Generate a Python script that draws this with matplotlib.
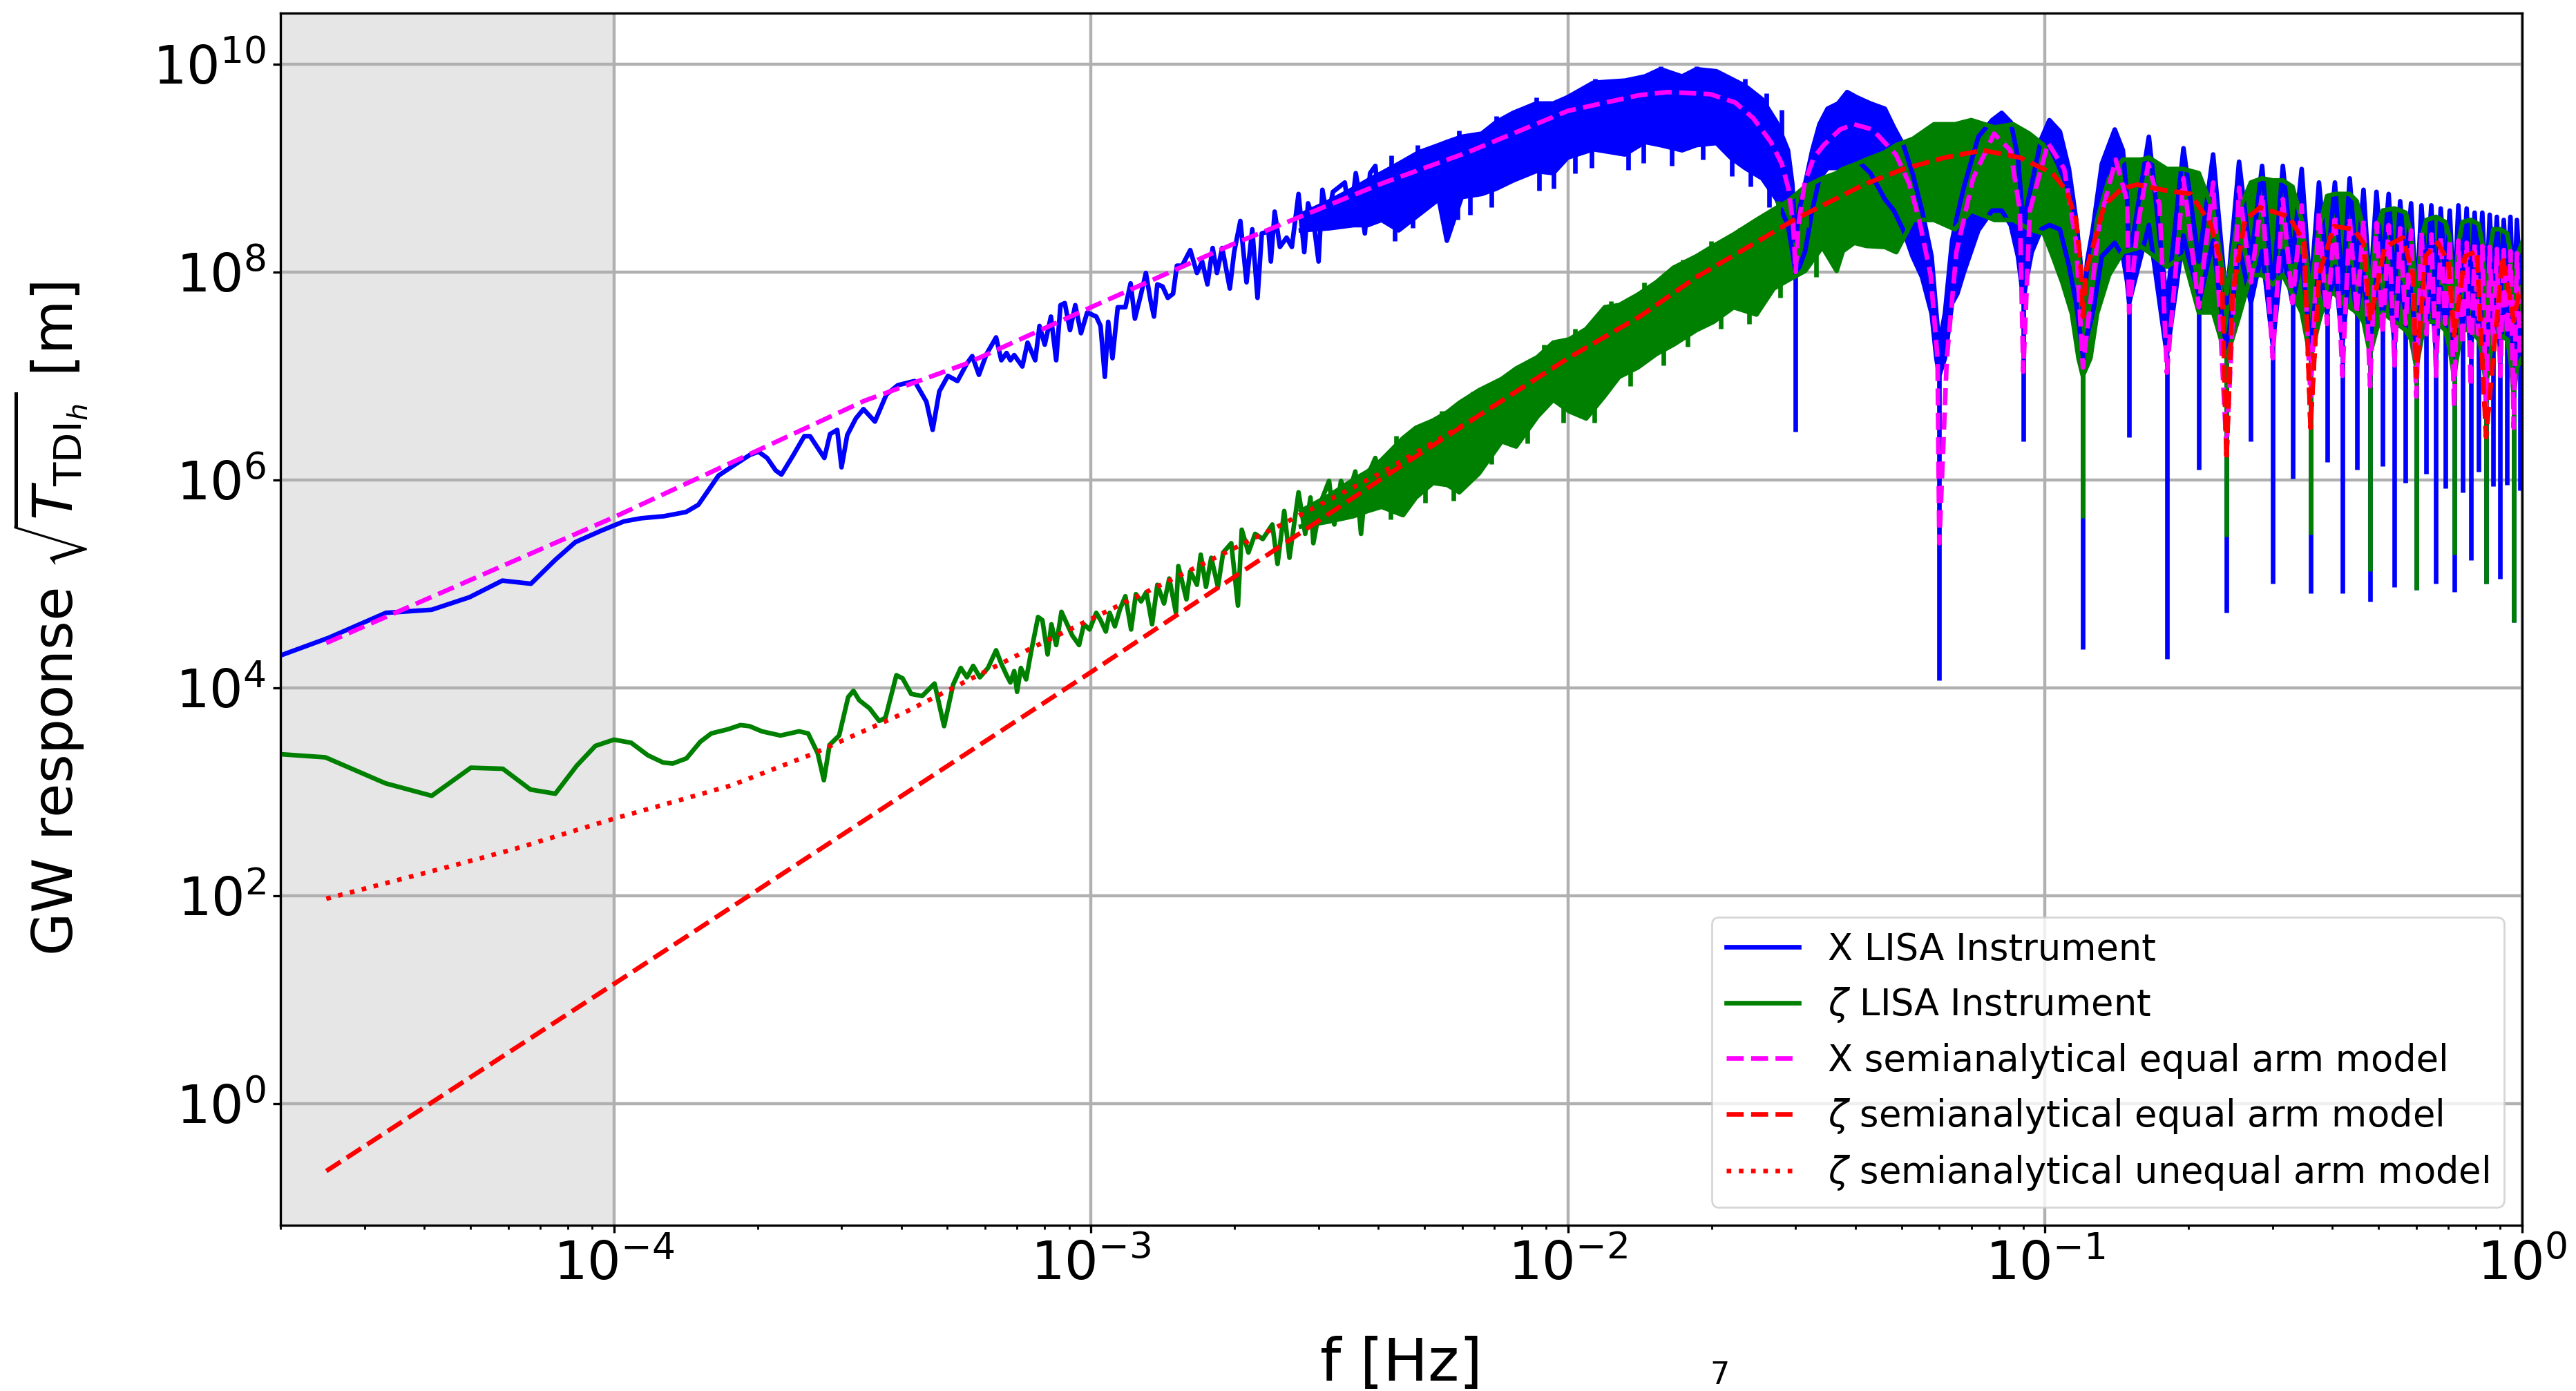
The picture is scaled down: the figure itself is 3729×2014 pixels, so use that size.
import numpy as np
import matplotlib.pyplot as plt
from matplotlib.ticker import NullLocator

# All values: [log10 f (Hz), log10 response (m)]

# X, LISA Instrument: low-frequency single trace
x_inst_low = np.array([
    [-4.699, 4.31], [-4.598, 4.48], [-4.478, 4.72], [-4.382, 4.75], [-4.303, 4.87],
    [-4.234, 5.03], [-4.174, 5.00], [-4.123, 5.23], [-4.081, 5.40], [-4.027, 5.51],
    [-3.979, 5.60], [-3.943, 5.63], [-3.895, 5.65], [-3.849, 5.69], [-3.823, 5.76],
    [-3.781, 6.04], [-3.745, 6.15], [-3.715, 6.24], [-3.697, 6.27], [-3.679, 6.21],
    [-3.661, 6.09], [-3.649, 6.05], [-3.625, 6.23], [-3.601, 6.42], [-3.589, 6.42],
    [-3.559, 6.21], [-3.547, 6.44], [-3.532, 6.48], [-3.523, 6.12], [-3.511, 6.43],
    [-3.493, 6.59], [-3.477, 6.68], [-3.453, 6.56], [-3.429, 6.82], [-3.405, 6.91],
    [-3.370, 6.95], [-3.345, 6.75], [-3.332, 6.48], [-3.318, 6.85], [-3.300, 7.00],
    [-3.280, 6.95], [-3.260, 7.12], [-3.249, 7.19], [-3.235, 7.01], [-3.219, 7.21],
    [-3.199, 7.37], [-3.188, 7.15], [-3.177, 7.22], [-3.169, 7.15], [-3.161, 7.20],
    [-3.144, 7.09], [-3.133, 7.32], [-3.117, 7.15], [-3.108, 7.48], [-3.097, 7.30],
    [-3.084, 7.57], [-3.073, 7.15], [-3.064, 7.68], [-3.055, 7.70], [-3.044, 7.44],
    [-3.033, 7.68], [-3.021, 7.41], [-3.008, 7.61], [-2.989, 7.57], [-2.980, 7.48],
    [-2.971, 6.99], [-2.964, 7.52], [-2.955, 7.17], [-2.944, 7.66], [-2.928, 7.66],
    [-2.917, 7.89], [-2.908, 7.55], [-2.895, 7.79], [-2.885, 7.99], [-2.875, 7.72],
    [-2.868, 7.57], [-2.861, 7.88], [-2.850, 7.86], [-2.839, 7.75], [-2.828, 7.79],
    [-2.820, 8.06], [-2.809, 8.06], [-2.792, 8.21], [-2.778, 7.99], [-2.767, 8.10],
    [-2.756, 7.88], [-2.745, 8.23], [-2.736, 7.99], [-2.725, 8.23], [-2.709, 7.84],
    [-2.700, 8.19], [-2.687, 8.49], [-2.674, 7.90], [-2.662, 8.41], [-2.651, 7.75],
    [-2.642, 8.37], [-2.628, 8.39], [-2.623, 8.10], [-2.615, 8.58], [-2.604, 8.24],
    [-2.590, 8.33], [-2.579, 8.24], [-2.565, 8.75], [-2.553, 8.19], [-2.545, 8.66],
    [-2.534, 8.50], [-2.523, 8.10], [-2.515, 8.79], [-2.504, 8.50], [-2.493, 8.77],
    [-2.479, 8.82], [-2.468, 8.86], [-2.457, 8.48], [-2.445, 8.95], [-2.434, 8.64],
    [-2.426, 8.37], [-2.415, 8.95], [-2.404, 9.02], [-2.393, 8.50],
])

# X, LISA Instrument: dense part, [log10 f, lower edge, upper edge]
x_inst_band = np.array([
    [-2.560, 8.40, 8.55], [-2.500, 8.42, 8.68], [-2.450, 8.45, 8.80], [-2.420, 8.45, 8.88],
    [-2.391, 8.50, 8.95], [-2.355, 8.40, 9.04], [-2.313, 8.55, 9.15], [-2.271, 8.70, 9.22],
    [-2.254, 8.30, 9.25], [-2.223, 8.72, 9.30], [-2.181, 8.75, 9.33], [-2.151, 8.80, 9.44],
    [-2.115, 8.88, 9.53], [-2.067, 8.97, 9.62], [-2.031, 8.95, 9.62], [-2.001, 9.10, 9.68],
    [-1.947, 9.18, 9.82], [-1.881, 9.13, 9.84], [-1.839, 9.25, 9.88], [-1.806, 9.22, 9.95],
    [-1.761, 9.17, 9.88], [-1.731, 9.22, 9.95], [-1.689, 9.24, 9.93], [-1.659, 9.10, 9.86],
    [-1.629, 9.00, 9.79], [-1.593, 8.90, 9.66], [-1.563, 8.70, 9.44], [-1.539, 8.45, 9.17],
    [-1.530, 8.20, 8.85], [-1.523, 8.00, 8.30], [-1.515, 8.05, 8.60], [-1.503, 8.20, 8.85],
    [-1.488, 8.60, 9.17], [-1.473, 8.90, 9.42], [-1.456, 9.00, 9.57], [-1.434, 9.00, 9.62],
    [-1.415, 9.05, 9.73], [-1.395, 9.08, 9.68], [-1.366, 8.95, 9.62], [-1.336, 8.70, 9.57],
    [-1.317, 8.59, 9.39], [-1.297, 8.40, 9.22], [-1.278, 8.15, 8.95], [-1.258, 7.95, 8.59],
    [-1.238, 7.60, 8.15], [-1.228, 7.17, 7.60], [-1.222, 7.00, 7.30], [-1.210, 7.17, 7.60],
    [-1.195, 7.70, 8.30], [-1.184, 7.79, 8.55], [-1.170, 8.00, 8.82], [-1.140, 8.40, 9.30],
    [-1.111, 8.59, 9.46], [-1.091, 8.59, 9.53], [-1.072, 8.45, 9.44], [-1.057, 8.15, 9.10],
    [-1.050, 7.90, 8.70], [-1.046, 7.70, 8.20], [-1.040, 7.90, 8.60], [-1.028, 8.19, 8.85],
    [-1.008, 8.41, 9.28], [-0.991, 8.45, 9.46], [-0.969, 8.41, 9.35], [-0.950, 8.06, 8.99],
    [-0.935, 7.70, 8.50], [-0.926, 7.39, 8.10], [-0.921, 7.20, 7.60], [-0.912, 7.39, 8.10],
    [-0.900, 7.60, 8.41], [-0.881, 8.15, 9.04], [-0.854, 8.28, 9.37], [-0.837, 8.15, 9.17],
    [-0.828, 7.90, 8.70],
])
# single noise spikes sticking out of the X band: [log10 f, tip]
x_spikes = np.array([
    [-2.364, 8.30], [-2.325, 8.42], [-2.232, 8.50], [-2.205, 8.55], [-2.160, 8.62],
    [-2.060, 8.78], [-2.030, 8.80], [-1.985, 8.95], [-1.950, 9.00], [-1.874, 8.98],
    [-1.842, 9.05], [-1.782, 9.02], [-1.717, 9.08], [-1.656, 8.92], [-1.617, 8.82],
    [-1.578, 8.62], [-2.370, 9.12], [-2.316, 9.22], [-2.229, 9.36], [-2.151, 9.50],
    [-2.067, 9.68], [-1.944, 9.86], [-1.806, 9.98], [-1.730, 9.98], [-1.629, 9.86],
    [-1.585, 9.72], [-1.553, 9.56],
])

# response nulls (Hz) and narrow-lobe centres above 0.15 Hz
null_f = [0.03, 0.06, 0.09, 0.12, 0.15, 0.18, 0.21, 0.24, 0.27, 0.30, 0.33,
          0.36, 0.39, 0.42, 0.45, 0.48, 0.51, 0.54, 0.57, 0.60, 0.63, 0.66,
          0.69, 0.72, 0.75, 0.78, 0.81, 0.84, 0.87, 0.90, 0.93, 0.96, 0.99]
lobe_f = [0.165, 0.195, 0.225, 0.255, 0.285, 0.315, 0.345, 0.375, 0.405, 0.435,
          0.465, 0.495, 0.525, 0.555, 0.585, 0.615, 0.645, 0.675, 0.705, 0.735,
          0.765, 0.795, 0.825, 0.855, 0.885, 0.915, 0.945, 0.975]

# X instrument, narrow lobes: edges at the nulls 0.15..0.99 and at lobe centres
x_null_lo = [7.7, 7.2, 7.7, 7.2, 7.7, 7.3, 7.7, 7.3, 7.6, 7.3, 7.6, 7.3, 7.6, 7.3, 7.6,
             7.2, 7.5, 7.2, 7.5, 7.2, 7.5, 7.2, 7.5, 7.2, 7.5, 7.2, 7.5, 7.1, 7.4]
x_null_hi = [8.1, 7.7, 8.1, 7.7, 8.1, 7.8, 8.1, 7.8, 8.0, 7.8, 8.0, 7.8, 8.0, 7.8, 8.0,
             7.7, 7.9, 7.7, 7.9, 7.7, 7.9, 7.7, 7.9, 7.7, 7.9, 7.7, 7.9, 7.6, 7.9]
x_lobe_hi = [9.30, 9.19, 9.13, 9.06, 9.02, 9.02, 8.99, 8.86, 8.86, 8.90, 8.79, 8.77, 8.75, 8.68,
             8.66, 8.64, 8.64, 8.61, 8.59, 8.64, 8.61, 8.57, 8.57, 8.55, 8.53, 8.50, 8.53, 8.50]
x_lobe_lo = [8.45, 8.35, 8.30, 8.25, 8.20, 8.20, 8.15, 8.05, 8.05, 8.05, 8.00, 7.95, 7.95, 7.90,
             7.90, 7.85, 7.85, 7.85, 7.80, 7.85, 7.80, 7.80, 7.80, 7.75, 7.75, 7.75, 7.75, 7.70]
# bottom of the X instrument dips at every null
x_dip = [6.46, 4.07, 6.37, 4.37, 6.41, 4.28, 6.10, 4.72, 6.37, 5.00, 6.01, 4.91, 6.17, 4.91,
         6.10, 4.83, 6.13, 4.97, 5.97, 4.94, 6.06, 5.00, 5.92, 4.92, 5.88, 5.23, 6.08, 5.00,
         5.94, 5.05, 5.95, 4.63, 5.90]

# zeta, LISA Instrument: low-frequency single trace
z_inst_low = np.array([
    [-4.699, 3.36], [-4.605, 3.33], [-4.479, 3.08], [-4.382, 2.96], [-4.300, 3.23],
    [-4.233, 3.22], [-4.175, 3.02], [-4.123, 2.98], [-4.078, 3.25], [-4.039, 3.44],
    [-4.000, 3.50], [-3.964, 3.47], [-3.929, 3.35], [-3.897, 3.28], [-3.877, 3.27],
    [-3.848, 3.32], [-3.819, 3.48], [-3.796, 3.56], [-3.761, 3.60], [-3.735, 3.64],
    [-3.716, 3.63], [-3.690, 3.58], [-3.651, 3.54], [-3.612, 3.58], [-3.593, 3.56],
    [-3.573, 3.37], [-3.560, 3.11], [-3.548, 3.45], [-3.528, 3.54], [-3.509, 3.91],
    [-3.498, 3.97], [-3.486, 3.88], [-3.464, 3.80], [-3.444, 3.68], [-3.431, 3.71],
    [-3.408, 4.12], [-3.395, 4.09], [-3.377, 3.94], [-3.354, 3.92], [-3.328, 4.04],
    [-3.308, 3.63], [-3.289, 4.03], [-3.273, 4.19], [-3.260, 4.10], [-3.247, 4.21],
    [-3.233, 4.10], [-3.216, 4.19], [-3.199, 4.36], [-3.188, 4.23], [-3.177, 4.12],
    [-3.169, 4.05], [-3.161, 4.16], [-3.155, 3.96], [-3.147, 4.19], [-3.136, 4.08],
    [-3.125, 4.36], [-3.111, 4.68], [-3.102, 4.65], [-3.091, 4.32], [-3.083, 4.61],
    [-3.073, 4.41], [-3.062, 4.73], [-3.052, 4.63], [-3.039, 4.50], [-3.025, 4.41],
    [-3.015, 4.61], [-3.003, 4.56], [-2.989, 4.72], [-2.980, 4.65], [-2.969, 4.54],
    [-2.961, 4.72], [-2.950, 4.59], [-2.939, 4.76], [-2.928, 4.88], [-2.916, 4.56],
    [-2.906, 4.90], [-2.895, 4.83], [-2.884, 4.92], [-2.872, 4.61], [-2.861, 4.99],
    [-2.847, 4.81], [-2.836, 5.05], [-2.822, 4.72], [-2.817, 5.17], [-2.800, 4.85],
    [-2.792, 5.12], [-2.778, 4.99], [-2.770, 5.28], [-2.759, 4.97], [-2.748, 5.25],
    [-2.734, 4.97], [-2.723, 5.30], [-2.706, 5.39], [-2.692, 4.79], [-2.684, 5.52],
    [-2.670, 5.30], [-2.656, 5.48], [-2.640, 5.43], [-2.620, 5.57], [-2.609, 5.19],
    [-2.595, 5.70], [-2.584, 5.25], [-2.565, 5.88], [-2.551, 5.48], [-2.540, 5.83],
    [-2.534, 5.39], [-2.518, 5.79], [-2.501, 5.99], [-2.490, 5.57], [-2.476, 5.99],
    [-2.462, 5.83], [-2.446, 6.08], [-2.434, 5.48], [-2.423, 6.01], [-2.404, 6.21],
    [-2.391, 5.88],
])

# zeta, LISA Instrument: dense part, [log10 f, lower edge, upper edge]
z_inst_band = np.array([
    [-2.560, 5.55, 5.70], [-2.500, 5.60, 5.85], [-2.450, 5.65, 6.00], [-2.420, 5.70, 6.08],
    [-2.391, 5.74, 6.19], [-2.346, 5.66, 6.40], [-2.319, 5.83, 6.50], [-2.283, 5.97, 6.57],
    [-2.253, 5.95, 6.65], [-2.228, 5.88, 6.74], [-2.187, 6.06, 6.86], [-2.139, 6.37, 6.97],
    [-2.109, 6.32, 7.07], [-2.064, 6.61, 7.18], [-2.031, 6.77, 7.32], [-1.998, 6.66, 7.35],
    [-1.962, 6.59, 7.45], [-1.923, 6.81, 7.66], [-1.893, 6.99, 7.68], [-1.854, 7.08, 7.78],
    [-1.815, 7.21, 7.90], [-1.779, 7.30, 8.04], [-1.731, 7.44, 8.15], [-1.695, 7.52, 8.25],
    [-1.653, 7.66, 8.36], [-1.605, 7.59, 8.50], [-1.569, 7.84, 8.60], [-1.539, 7.92, 8.68],
    [-1.503, 8.01, 8.82], [-1.467, 8.24, 8.90], [-1.437, 8.01, 8.95], [-1.424, 8.20, 8.99],
    [-1.400, 8.28, 9.03], [-1.375, 8.25, 9.08], [-1.336, 8.24, 9.15], [-1.312, 8.19, 9.22],
    [-1.277, 8.50, 9.28], [-1.233, 8.50, 9.42], [-1.189, 8.41, 9.42], [-1.155, 8.59, 9.46],
    [-1.106, 8.50, 9.39], [-1.067, 8.50, 9.42], [-1.033, 8.41, 9.33], [-1.003, 8.37, 9.22],
    [-0.984, 8.15, 9.04], [-0.964, 7.90, 8.82], [-0.944, 7.60, 8.50], [-0.930, 7.17, 8.15],
    [-0.921, 7.00, 7.70], [-0.905, 7.17, 7.92], [-0.891, 7.60, 8.50], [-0.866, 7.97, 8.90],
    [-0.837, 8.19, 9.08], [-0.798, 8.24, 9.08],
])
# zeta instrument above 0.16 Hz: [f in Hz, lower edge, upper edge]
z_inst_hf = np.array([
    [0.165, 8.19, 9.10], [0.18, 8.05, 8.99], [0.195, 8.15, 8.99], [0.21, 7.61, 8.95],
    [0.225, 7.61, 8.59], [0.24, 7.17, 7.79], [0.255, 7.57, 8.59], [0.27, 7.97, 8.86],
    [0.285, 7.97, 8.90], [0.30, 7.88, 8.88], [0.315, 7.97, 8.88], [0.33, 7.79, 8.82],
    [0.345, 7.61, 8.50], [0.36, 7.17, 7.79], [0.375, 7.52, 8.41], [0.39, 7.79, 8.73],
    [0.405, 7.79, 8.75], [0.42, 7.70, 8.75], [0.435, 7.66, 8.75], [0.45, 7.61, 8.68],
    [0.465, 7.52, 8.41], [0.48, 7.21, 7.79], [0.495, 7.44, 8.41], [0.51, 7.61, 8.59],
    [0.54, 7.52, 8.61], [0.57, 7.44, 8.57], [0.585, 7.35, 8.37], [0.60, 7.08, 7.70],
    [0.615, 7.35, 8.33], [0.63, 7.52, 8.50], [0.66, 7.52, 8.53], [0.69, 7.44, 8.48],
    [0.705, 7.26, 8.33], [0.72, 6.99, 7.61], [0.735, 7.26, 8.28], [0.75, 7.44, 8.48],
    [0.78, 7.44, 8.50], [0.81, 7.35, 8.46], [0.825, 7.21, 8.28], [0.84, 6.90, 7.52],
    [0.855, 7.17, 8.19], [0.87, 7.39, 8.41], [0.90, 7.39, 8.41], [0.93, 7.35, 8.37],
    [0.945, 7.17, 8.19], [0.96, 6.81, 7.52], [0.975, 7.08, 8.15], [1.0, 7.17, 8.28],
])
z_null_f = [0.12, 0.24, 0.36, 0.48, 0.60, 0.72, 0.84, 0.96]
z_dip = [5.63, 5.45, 5.47, 5.12, 4.94, 5.28, 5.00, 4.63]
z_spikes = np.array([
    [-2.372, 5.62], [-2.300, 5.78], [-2.240, 5.80], [-2.160, 6.15], [-2.085, 6.35],
    [-2.010, 6.55], [-1.945, 6.55], [-1.870, 6.90], [-1.800, 7.10], [-1.750, 7.28],
    [-1.680, 7.45], [-1.620, 7.50], [-1.555, 7.75], [-1.480, 7.95], [-2.360, 6.42],
    [-2.265, 6.66], [-2.200, 6.85], [-2.120, 7.05], [-2.050, 7.30], [-1.985, 7.45],
    [-1.910, 7.72], [-1.840, 7.90], [-1.760, 8.12], [-1.700, 8.30], [-1.640, 8.42],
    [-1.560, 8.68], [-1.500, 8.85],
])

# X semianalytical equal arm model
x_model_low = np.array([
    [-4.603, 4.43], [-4.0, 5.64], [-3.475, 6.76], [-3.26, 7.12], [-3.0, 7.66],
    [-2.706, 8.26], [-2.391, 8.85], [-2.211, 9.15], [-2.0, 9.55], [-1.851, 9.70],
    [-1.792, 9.73], [-1.702, 9.71], [-1.650, 9.63], [-1.612, 9.48], [-1.575, 9.25],
    [-1.552, 9.04], [-1.538, 8.80], [-1.528, 8.45], [-1.523, 8.00], [-1.517, 8.45],
    [-1.504, 8.86], [-1.485, 9.10], [-1.464, 9.22], [-1.430, 9.37], [-1.401, 9.42],
    [-1.362, 9.37], [-1.313, 9.13], [-1.285, 8.85], [-1.264, 8.50], [-1.240, 7.97],
    [-1.2255, 7.17], [-1.2218, 5.39], [-1.206, 7.17], [-1.186, 8.19], [-1.151, 8.90],
    [-1.107, 9.33], [-1.073, 9.17], [-1.053, 8.59], [-1.0458, 7.04], [-1.032, 8.59],
    [-0.994, 9.24], [-0.960, 8.99], [-0.935, 8.28], [-0.9208, 7.08], [-0.886, 8.48],
    [-0.852, 9.08], [-0.828, 8.68], [-0.8239, 7.61], [-0.807, 8.41], [-0.784, 9.04],
    [-0.760, 8.64], [-0.7447, 7.03],
])
# peaks at lobe_f[1:], nulls at null_f[6:]
x_model_peak = [8.90, 8.86, 8.81, 8.75, 8.70, 8.64, 8.58, 8.55, 8.52, 8.50, 8.47, 8.45, 8.42, 8.40,
                8.38, 8.36, 8.34, 8.32, 8.30, 8.28, 8.27, 8.25, 8.24, 8.22, 8.21, 8.20, 8.18]
x_model_null = [7.66, 6.30, 7.90, 7.17, 7.70, 6.80, 7.50, 7.00, 7.60, 6.90, 7.40, 7.10, 7.50, 6.80,
                7.40, 7.00, 7.50, 6.70, 7.30, 6.90, 7.40, 6.60, 7.30, 7.00, 7.40, 6.50, 7.20]

# zeta semianalytical equal arm model
z_model_eq = np.array([
    [-4.603, -0.65], [-4.0, 1.15], [-3.5, 2.65], [-3.0, 4.15], [-2.6, 5.37],
    [-2.391, 6.01], [-2.2, 6.58], [-2.0, 7.17], [-1.85, 7.57], [-1.731, 7.95],
    [-1.6, 8.30], [-1.527, 8.50], [-1.449, 8.68], [-1.38, 8.84], [-1.297, 8.99],
    [-1.21, 9.10], [-1.131, 9.17], [-1.053, 9.10], [-0.985, 8.95], [-0.955, 8.78],
    [-0.935, 8.50], [-0.926, 8.10], [-0.9208, 7.57], [-0.915, 8.00], [-0.906, 8.14],
    [-0.876, 8.64], [-0.84, 8.80], [-0.807, 8.84], [-0.755, 8.79], [-0.695, 8.75],
    [-0.653, 8.46], [-0.630, 8.06], [-0.6198, 6.19], [-0.607, 7.79], [-0.581, 8.50],
    [-0.550, 8.62], [-0.488, 8.53], [-0.457, 8.28], [-0.4437, 6.50], [-0.426, 7.97],
    [-0.395, 8.44], [-0.353, 8.41], [-0.333, 8.28], [-0.3188, 7.53], [-0.288, 8.24],
    [-0.250, 8.33], [-0.229, 7.97], [-0.2218, 6.99], [-0.203, 8.15], [-0.177, 8.28],
    [-0.155, 8.10], [-0.1427, 7.39], [-0.120, 8.15], [-0.095, 8.20], [-0.0757, 6.41],
    [-0.041, 8.15], [-0.0177, 7.53], [-0.007, 7.79], [0.0, 7.79],
])
# zeta semianalytical unequal arm model, below 6 mHz (same as equal arm above)
z_model_uneq_low = np.array([
    [-4.603, 1.97], [-4.336, 2.29], [-4.207, 2.45], [-4.0, 2.74], [-3.884, 2.89],
    [-3.754, 3.06], [-3.585, 3.36], [-3.40, 3.74], [-3.134, 4.36], [-2.862, 4.97],
    [-2.6, 5.57], [-2.391, 6.07],
])


def merge(fa, va, fb, vb):
    f = np.concatenate([fa, fb])
    v = np.concatenate([va, vb])
    order = np.argsort(f)
    return f[order], v[order]


# assemble the narrow-lobe parts
hf_null_lf = np.log10(null_f[4:])
hf_lobe_lf = np.log10(lobe_f)
lf_a, lo_a = merge(hf_null_lf, x_null_lo, hf_lobe_lf, x_lobe_lo)
_, hi_a = merge(hf_null_lf, x_null_hi, hf_lobe_lf, x_lobe_hi)
xb_lf = np.concatenate([x_inst_band[:, 0], lf_a])
xb_lo = np.concatenate([x_inst_band[:, 1], lo_a])
xb_hi = np.concatenate([x_inst_band[:, 2], hi_a])

zb_lf = np.concatenate([z_inst_band[:, 0], np.log10(z_inst_hf[:, 0])])
zb_lo = np.concatenate([z_inst_band[:, 1], z_inst_hf[:, 1]])
zb_hi = np.concatenate([z_inst_band[:, 2], z_inst_hf[:, 2]])

xm_hf_lf, xm_hf_v = merge(np.log10(lobe_f[1:]), x_model_peak,
                          np.log10(null_f[6:]), x_model_null)
xm_lf = np.concatenate([x_model_low[:, 0], xm_hf_lf])
xm_v = np.concatenate([x_model_low[:, 1], xm_hf_v])

keep = z_model_eq[:, 0] >= -2.2
zu_lf = np.concatenate([z_model_uneq_low[:, 0], z_model_eq[keep, 0]])
zu_v = np.concatenate([z_model_uneq_low[:, 1], z_model_eq[keep, 1]])

p = lambda a: 10.0 ** np.asarray(a)

fig = plt.figure(figsize=(18.645, 10.07), dpi=200)
ax = fig.add_axes([0.1089, 0.1192, 0.8702, 0.8714])
ax.set_xscale('log')
ax.set_yscale('log')
ax.set_axisbelow(True)

ax.axvspan(2e-5, 1e-4, color='0.9', zorder=0, lw=0)


def draw_instrument(low, b_lf, b_lo, b_hi, d_f, d_v, spikes, color, label, lw):
    ax.plot(p(low[:, 0]), p(low[:, 1]), color=color, lw=lw, label=label)
    ax.fill_between(p(b_lf), p(b_lo), p(b_hi), color=color, lw=0)
    ax.plot(p(b_lf), p(b_hi), color=color, lw=lw)
    ax.plot(p(b_lf), p(b_lo), color=color, lw=lw)
    mid = 0.5 * (b_lo + b_hi)
    ax.vlines(d_f, p(d_v), p(np.interp(np.log10(d_f), b_lf, b_lo)), color=color, lw=lw)
    ax.vlines(p(spikes[:, 0]), p(spikes[:, 1]), p(np.interp(spikes[:, 0], b_lf, mid)),
              color=color, lw=lw)


lw_i = 2.4
draw_instrument(x_inst_low, xb_lf, xb_lo, xb_hi, null_f, x_dip, x_spikes,
                'blue', 'X LISA Instrument', lw_i)
draw_instrument(z_inst_low, zb_lf, zb_lo, zb_hi, z_null_f, z_dip, z_spikes,
                'green', r'$\zeta$ LISA Instrument', lw_i)

lw_m = 2.4
ax.plot(p(xm_lf), p(xm_v), color='magenta', ls='--', lw=lw_m,
        label='X semianalytical equal arm model')
ax.plot(p(z_model_eq[:, 0]), p(z_model_eq[:, 1]), color='red', ls='--', lw=lw_m,
        label=r'$\zeta$ semianalytical equal arm model')
ax.plot(p(zu_lf), p(zu_v), color='red', ls=':', lw=lw_m,
        label=r'$\zeta$ semianalytical unequal arm model')

ax.set_xlim(2e-5, 1)
ax.set_ylim(10 ** -1.171, 10 ** 10.49)
ax.set_yticks([1e0, 1e2, 1e4, 1e6, 1e8, 1e10])
ax.yaxis.set_minor_locator(NullLocator())
ax.grid(True, which='major', color='#b0b0b0', lw=1.6)

ax.tick_params(axis='both', which='major', labelsize=27.5, length=4, width=1.2)
ax.tick_params(axis='both', which='minor', length=2.2, width=1.0)
for s in ax.spines.values():
    s.set_linewidth(1.2)

ax.set_xlabel('f [Hz]', fontsize=31)
ax.set_ylabel(r'GW response $\sqrt{T_{\mathrm{TDI}_h}}$ [m]', fontsize=29)
ax.xaxis.set_label_coords(0.5, -0.091)
ax.yaxis.set_label_coords(-0.085, 0.5)

ax.legend(loc='lower right', fontsize=19)

fig.text(0.6675, 0.005, '7', fontsize=16, ha='center', va='baseline')

fig.savefig('out.png', dpi=200)
